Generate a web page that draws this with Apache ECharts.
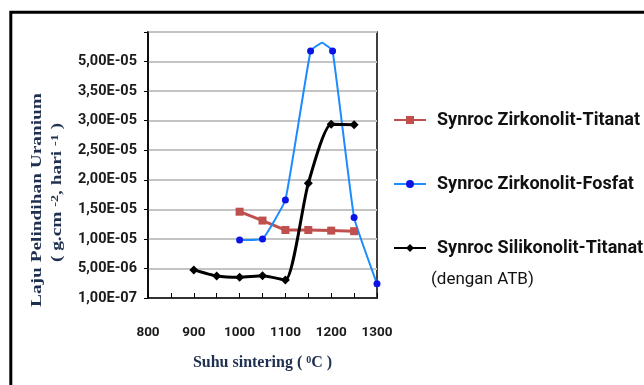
<!DOCTYPE html>
<html><head><meta charset="utf-8">
<script src="https://cdn.jsdelivr.net/npm/echarts@6/dist/echarts.min.js"></script>
<style>html,body{margin:0;padding:0;background:#fff;}#c{width:644px;height:385px;}</style>
</head><body><div id="c"></div>
<script>
// ---- data ----
const seriesNames = ['Synroc Zirkonolit-Titanat', 'Synroc Zirkonolit-Fosfat', 'Synroc Silikonolit-Titanat'];
const redX   = [1000, 1050, 1100, 1150, 1200, 1250];
const redY   = [1.46e-5, 1.31e-5, 1.15e-5, 1.15e-5, 1.14e-5, 1.13e-5];
const blueX  = [1000, 1050, 1100, 1155, 1180, 1203, 1250, 1300];
const blueY  = [0.98e-5, 1.0e-5, 1.66e-5, 4.18e-5, 4.32e-5, 4.18e-5, 1.36e-5, 0.24e-5];
const blackX = [900, 950, 1000, 1050, 1100, 1150, 1200, 1250];
const blackY = [4.75e-6, 3.72e-6, 3.5e-6, 3.77e-6, 3.04e-6, 1.94e-5, 2.94e-5, 2.93e-5];
const yTickLabels = ['1,00E-07', '5,00E-06', '1,00E-05', '1,50E-05', '2,00E-05', '2,50E-05', '3,00E-05', '3,50E-05', '5,00E-05', ''];
const yStep = 5e-6;
const xName = 'Suhu sintering ( {sup|0}C )';
const yName1 = 'Laju Pelindihan Uranium';
const yName2 = '( g.cm {sup|-2}, hari {sup|-1} )';
const legendNote = '(dengan ATB)';

const zip = (xs, ys) => xs.map((x, i) => [x, ys[i]]);
const navy = '#1f2f4f';

const chart = echarts.init(document.getElementById('c'), null, {renderer: 'canvas'});
chart.setOption({
  animation: false,
  backgroundColor: '#fff',
  grid: {left: 148, top: 32, width: 229, height: 266, show: true, borderColor: '#000', borderWidth: 1.5, backgroundColor: 'transparent'},
  xAxis: {
    type: 'value', min: 800, max: 1300, interval: 50,
    axisLine: {lineStyle: {color: '#000', width: 1.5}},
    axisTick: {inside: true, length: 5, lineStyle: {color: '#000', width: 1}},
    splitLine: {show: false},
    axisLabel: {margin: 28, fontFamily: 'Roboto', fontWeight: 'bold', fontSize: 13.5, color: '#1a1a1a',
      formatter: v => (v % 100 === 0 ? String(v) : '')},
    name: xName, nameLocation: 'middle', nameGap: 57,
    nameTextStyle: {fontFamily: 'Liberation Serif', fontWeight: 'bold', fontSize: 16, color: navy,
      rich: {sup: {fontFamily: 'Liberation Serif', fontWeight: 'bold', fontSize: 10, color: navy, verticalAlign: 'top'}}}
  },
  yAxis: {
    type: 'value', min: 0, max: 4.5e-5, interval: yStep,
    axisLine: {show: true, lineStyle: {color: '#000', width: 1.5}},
    axisTick: {show: true, length: 4, lineStyle: {color: '#000'}},
    splitLine: {show: true, lineStyle: {color: '#c4c4c4', width: 2}},
    axisLabel: {margin: 11, fontFamily: 'Roboto', fontWeight: 'bold', fontSize: 14.5, color: '#1a1a1a',
      formatter: v => yTickLabels[Math.round(v / yStep)] || ''}
  },
  legend: {
    orient: 'vertical', left: 388, top: 105, itemWidth: 32, itemHeight: 10, itemGap: 44,
    textStyle: {fontFamily: 'Roboto', fontWeight: 'bold', fontSize: 18, color: '#111', lineHeight: 20, padding: [0, 0, 0, 6]},
    data: seriesNames
  },
  graphic: [
    {type: 'rect', silent: true, z: -10, shape: {x: 10.8, y: 12.3, width: 1000, height: 1000},
      style: {fill: 'none', stroke: '#000', lineWidth: 3}},
    {type: 'text', silent: true, x: 37, y: 200, rotation: Math.PI / 2, scaleX: 1.29,
      style: {text: yName1, fontFamily: 'Liberation Serif', fontWeight: 'bold', fontSize: 15, fill: navy, align: 'center', verticalAlign: 'middle'}},
    {type: 'text', silent: true, x: 57.5, y: 192.5, rotation: Math.PI / 2, scaleX: 1.29,
      style: {text: yName2, fontFamily: 'Liberation Serif', fontWeight: 'bold', fontSize: 15, fill: navy, align: 'center', verticalAlign: 'middle',
        rich: {sup: {fontFamily: 'Liberation Serif', fontWeight: 'bold', fontSize: 11, fill: navy, verticalAlign: 'top'}}}},
    {type: 'text', silent: true, x: 431, y: 280,
      style: {text: legendNote, fontFamily: 'Roboto', fontSize: 17, fill: '#111', align: 'left', verticalAlign: 'middle'}}
  ],
  series: [
    {name: seriesNames[0], type: 'line', data: zip(redX, redY), symbol: 'rect', symbolSize: 8,
      lineStyle: {color: '#c0504d', width: 3}, itemStyle: {color: '#c0504d'}},
    {name: seriesNames[1], type: 'line', data: zip(blueX, blueY), symbol: 'circle', smooth: 0.1,
      symbolSize: (v, p) => (p.dataIndex === 4 ? 0 : 7),
      lineStyle: {color: '#1a8cff', width: 2}, itemStyle: {color: '#0a14e6'}},
    {name: seriesNames[2], type: 'line', data: zip(blackX, blackY), symbol: 'diamond', symbolSize: 9, smooth: 0.2,
      lineStyle: {color: '#000', width: 3}, itemStyle: {color: '#000'}}
  ]
});
</script></body></html>
